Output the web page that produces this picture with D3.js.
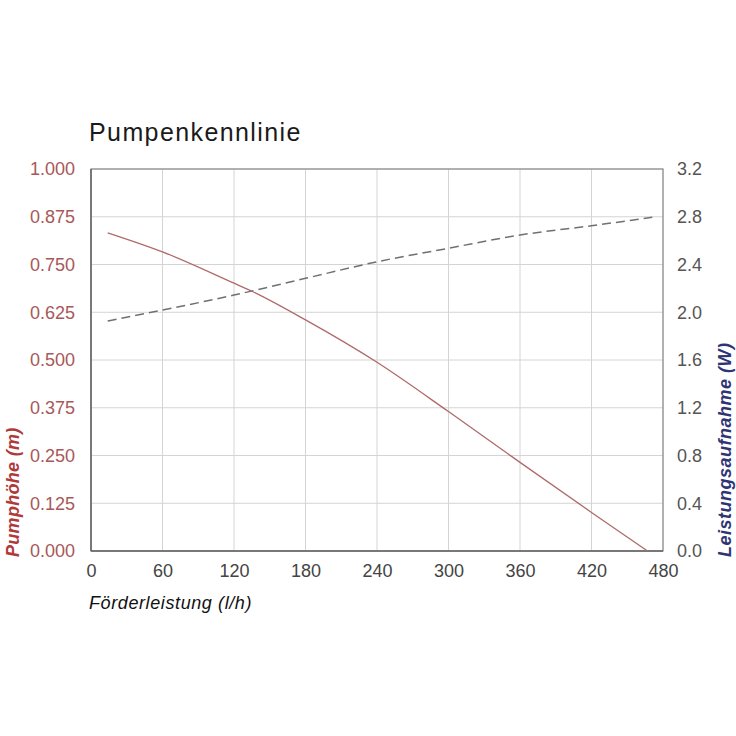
<!DOCTYPE html>
<html><head><meta charset="utf-8">
<script src="https://cdn.jsdelivr.net/npm/d3@7"></script>
<style>body{margin:0;background:#fff}</style>
</head><body>
<script>
const flowX = [14, 60, 120, 135, 180, 240, 300, 360, 420, 467];
const headY = [0.833, 0.783, 0.701, 0.680, 0.605, 0.494, 0.365, 0.232, 0.101, 0.0];
const powerX = [14, 60, 120, 180, 240, 300, 360, 420, 471];
const powerY = [1.927, 2.018, 2.144, 2.284, 2.423, 2.536, 2.647, 2.725, 2.795];
const xTicks = [0, 60, 120, 180, 240, 300, 360, 420, 480];
const leftTicks = [0, 0.125, 0.25, 0.375, 0.5, 0.625, 0.75, 0.875, 1.0];
const rightTicks = [0, 0.4, 0.8, 1.2, 1.6, 2.0, 2.4, 2.8, 3.2];

const W = 736, H = 736;
const m = {l: 91, r: 663, t: 169, b: 551};
const svg = d3.select("body").append("svg").attr("width", W).attr("height", H)
  .style("font-family", "'Liberation Sans', Arial, sans-serif");

const x = d3.scaleLinear().domain([0, 480]).range([m.l, m.r]);
const yL = d3.scaleLinear().domain([0, 1]).range([m.b, m.t]);
const yR = d3.scaleLinear().domain([0, 3.2]).range([m.b, m.t]);

// grid
svg.append("g").selectAll("line").data(xTicks).join("line")
  .attr("x1", d => x(d)).attr("x2", d => x(d)).attr("y1", m.t).attr("y2", m.b)
  .attr("stroke", "#d4d4d4").attr("stroke-width", 1);
svg.append("g").selectAll("line").data(leftTicks).join("line")
  .attr("x1", m.l).attr("x2", m.r).attr("y1", d => yL(d)).attr("y2", d => yL(d))
  .attr("stroke", "#d4d4d4").attr("stroke-width", 1);

// frame
svg.append("rect").attr("x", m.l).attr("y", m.t).attr("width", m.r - m.l).attr("height", m.b - m.t)
  .attr("fill", "none").attr("stroke", "#8a8a8a").attr("stroke-width", 1.2);
svg.append("line").attr("x1", m.l).attr("x2", m.l).attr("y1", m.t).attr("y2", m.b).attr("stroke", "#666").attr("stroke-width", 1.5);
svg.append("line").attr("x1", m.l).attr("x2", m.r).attr("y1", m.b).attr("y2", m.b).attr("stroke", "#666").attr("stroke-width", 1.5);

// axes (labels only)
const axB = svg.append("g").attr("transform", `translate(0,${m.b})`)
  .call(d3.axisBottom(x).tickValues(xTicks).tickSize(0).tickPadding(13).tickFormat(d3.format("d")));
axB.select(".domain").remove();
axB.selectAll("text").attr("font-size", 18).attr("fill", "#444").style("font-family", "inherit");

const axL = svg.append("g").attr("transform", `translate(${m.l},0)`)
  .call(d3.axisLeft(yL).tickValues(leftTicks).tickSize(0).tickPadding(16).tickFormat(d3.format(".3f")));
axL.select(".domain").remove();
axL.selectAll("text").attr("font-size", 18).attr("fill", "#a85858").style("font-family", "inherit");

const axR = svg.append("g").attr("transform", `translate(${m.r},0)`)
  .call(d3.axisRight(yR).tickValues(rightTicks).tickSize(0).tickPadding(14).tickFormat(d3.format(".1f")));
axR.select(".domain").remove();
axR.selectAll("text").attr("font-size", 18).attr("fill", "#555").style("font-family", "inherit");

// lines
const headLine = d3.line().x((d, i) => x(flowX[i])).y(d => yL(d)).curve(d3.curveMonotoneX);
svg.append("path").attr("d", headLine(headY)).attr("fill", "none")
  .attr("stroke", "#b06a6a").attr("stroke-width", 1.3);
const powerLine = d3.line().x((d, i) => x(powerX[i])).y(d => yR(d)).curve(d3.curveMonotoneX);
svg.append("path").attr("d", powerLine(powerY)).attr("fill", "none")
  .attr("stroke", "#707070").attr("stroke-width", 1.5).attr("stroke-dasharray", "9,5");

// titles
svg.append("text").attr("x", 89).attr("y", 141).attr("font-size", 25).attr("letter-spacing", 1.4)
  .attr("fill", "#1a1a1a").text("Pumpenkennlinie");
svg.append("text").attr("x", 89).attr("y", 609).attr("font-size", 18).attr("letter-spacing", 0.6)
  .attr("font-style", "italic").attr("fill", "#111").text("Förderleistung (l/h)");
svg.append("text").attr("transform", "translate(19,557) rotate(-90)").attr("font-size", 18)
  .attr("letter-spacing", 0.3).attr("font-style", "italic").attr("font-weight", "bold")
  .attr("fill", "#b03a3a").text("Pumphöhe (m)");
svg.append("text").attr("transform", "translate(731,557) rotate(-90)").attr("font-size", 18)
  .attr("letter-spacing", 0.5).attr("font-style", "italic").attr("font-weight", "bold")
  .attr("fill", "#2e3575").text("Leistungsaufnahme (W)");
</script>
</body></html>
